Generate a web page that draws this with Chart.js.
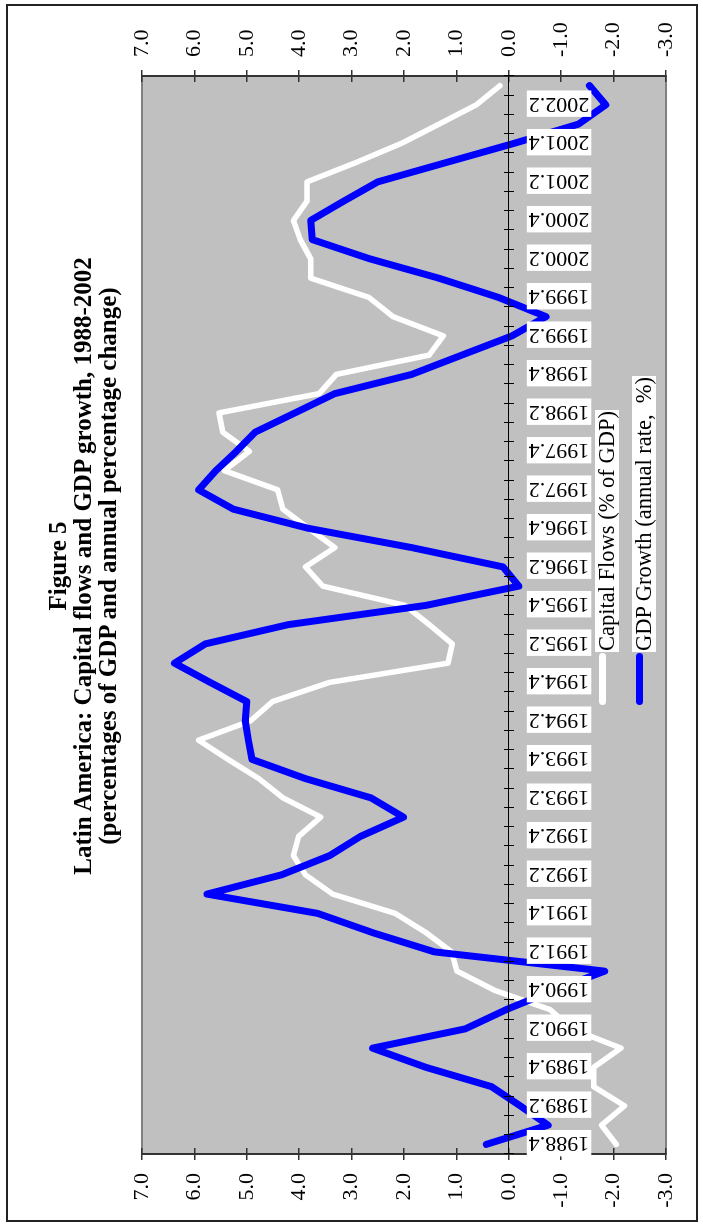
<!DOCTYPE html>
<html>
<head>
<meta charset="utf-8">
<script src="https://cdn.jsdelivr.net/npm/chart.js@4.4.1/dist/chart.umd.min.js"></script>
<style>
  html, body { margin: 0; padding: 0; background: #fff; overflow: hidden; }
  /* the figure is laid out landscape and turned a quarter turn to the left */
  #page {
    position: absolute; left: 0; top: 0;
    width: 1226px; height: 703px;
    transform-origin: 0 0;
    transform: translateY(1226px) rotate(-90deg);
    font-family: "Liberation Serif", "Times New Roman", serif;
    color: #000;
  }
  #frame { position: absolute; left: 4px; top: 6px; width: 1214px; height: 688px; border: 2px solid #222; }
  #chart { position: absolute; left: 0; top: 0; }
  #title {
    position: absolute; left: 260px; top: 45px; width: 800px;
    text-align: center; font-weight: bold; font-size: 25px; line-height: 25px;
  }
  .lg-line { position: absolute; left: 521px; width: 52px; height: 7px; border-radius: 3.5px; }
  .lg-text { position: absolute; left: 574px; height: 24px; line-height: 24px; font-size: 22.5px; background: #fff; white-space: pre; padding: 0 1px; }
</style>
</head>
<body>
<div id="page">
  <div id="frame"></div>
  <canvas id="chart" width="1226" height="703"></canvas>
  <div id="title">Figure 5<br>Latin America: Capital flows and GDP growth, 1988-2002<br>(percentages of GDP and annual percentage change)</div>
  <div class="lg-line" style="top:599px;background:#fff"></div>
  <div class="lg-text" style="top:595px">Capital Flows (% of GDP)</div>
  <div class="lg-line" style="top:636px;background:#0000ff"></div>
  <div class="lg-text" style="top:632px">GDP Growth (annual rate,  %)</div>
</div>
<script>
// quarters, 1988.4 - 2002.3
const quarters = [
  '1988.4',
  '1989.1', '1989.2', '1989.3', '1989.4',
  '1990.1', '1990.2', '1990.3', '1990.4',
  '1991.1', '1991.2', '1991.3', '1991.4',
  '1992.1', '1992.2', '1992.3', '1992.4',
  '1993.1', '1993.2', '1993.3', '1993.4',
  '1994.1', '1994.2', '1994.3', '1994.4',
  '1995.1', '1995.2', '1995.3', '1995.4',
  '1996.1', '1996.2', '1996.3', '1996.4',
  '1997.1', '1997.2', '1997.3', '1997.4',
  '1998.1', '1998.2', '1998.3', '1998.4',
  '1999.1', '1999.2', '1999.3', '1999.4',
  '2000.1', '2000.2', '2000.3', '2000.4',
  '2001.1', '2001.2', '2001.3', '2001.4',
  '2002.1', '2002.2', '2002.3'
];

// capital flows, % of GDP
const capitalFlows = [
  -2.05,
  -1.77, -2.21, -1.62, -1.62,
  -2.14, -1.20, -0.79, 0.27,
  0.99, 1.09, 1.58, 2.17,
  3.36, 3.88, 4.11, 4.01,
  3.59, 4.31, 4.77, 5.36,
  5.92, 4.93, 4.51, 3.42,
  1.16, 1.08, 1.52, 1.98,
  3.55, 3.88, 3.32, 3.82,
  4.31, 4.41, 5.43, 4.95,
  5.46, 5.53, 3.62, 3.29,
  1.52, 1.25, 2.21, 2.67,
  3.78, 3.78, 3.98, 4.11,
  3.85, 3.85, 2.92, 2.05,
  1.33, 0.62, 0.17
];

// GDP growth, annual rate %
const gdpGrowth = [
  0.43,
  -0.75, -0.22, 0.33, 1.58,
  2.60, 0.83, 0.05, -0.85,
  -1.83, 1.42, 2.60, 3.65,
  5.76, 4.34, 3.42, 2.83,
  2.01, 2.63, 3.88, 4.90,
  4.97, 5.03, 5.00, 5.70,
  6.38, 5.79, 4.21, 1.58,
  -0.19, 0.11, 1.85, 3.82,
  5.26, 5.92, 5.59, 5.20,
  4.84, 4.08, 3.32, 1.85,
  0.90, -0.06, -0.71, 0.20,
  1.34, 2.65, 3.75, 3.78,
  3.15, 2.50, 1.20, -0.10,
  -1.33, -1.85, -1.54
];

const valueMin = -3;
const valueMax = 7;

const FONT = { family: 'Liberation Serif', size: 22 };

// gray plot area with a thin gray frame
const plotBackground = {
  id: 'plotBackground',
  beforeDraw(chart) {
    const { ctx, chartArea: a } = chart;
    ctx.save();
    ctx.fillStyle = '#c0c0c0';
    ctx.fillRect(a.left, a.top, a.width, a.height);
    ctx.strokeStyle = '#808080';
    ctx.lineWidth = 2;
    ctx.strokeRect(a.left, a.top, a.width, a.height);
    ctx.restore();
  }
};

function valueAxis(side, width) {
  return {
    type: 'linear',
    position: side,
    weight: 1,
    min: valueMin,
    max: valueMax,
    afterFit: (s) => { s.width = width; },
    grid: { drawOnChartArea: false, tickLength: 6, color: '#333', lineWidth: 1.5 },
    border: { color: '#333', width: 2 },
    ticks: {
      stepSize: 1,
      padding: 13,
      color: '#000',
      font: FONT,
      callback: (v) => v.toFixed(1)
    }
  };
}

// inner half of the crossing tick marks
function innerTicks(side) {
  return {
    type: 'linear',
    position: side,
    weight: 0,
    min: valueMin,
    max: valueMax,
    afterFit: (s) => { s.width = 0; },
    grid: { drawOnChartArea: false, tickLength: -6, color: '#333', lineWidth: 1.5 },
    border: { display: false },
    ticks: { stepSize: 1, display: false }
  };
}

new Chart(document.getElementById('chart'), {
  type: 'line',
  data: {
    labels: quarters,
    datasets: [
      {
        label: 'Capital Flows (% of GDP)',
        data: capitalFlows,
        borderColor: '#ffffff',
        borderWidth: 5.5,
        borderCapStyle: 'round',
        borderJoinStyle: 'round',
        pointRadius: 0,
        tension: 0,
        fill: false,
        order: 1
      },
      {
        label: 'GDP Growth (annual rate,  %)',
        data: gdpGrowth,
        borderColor: '#0000ff',
        borderWidth: 7,
        borderCapStyle: 'round',
        borderJoinStyle: 'round',
        pointRadius: 0,
        tension: 0,
        fill: false,
        order: 0
      }
    ]
  },
  options: {
    responsive: false,
    animation: false,
    devicePixelRatio: 1,
    layout: { padding: { top: 142, bottom: 37, left: 0, right: 0 } },
    scales: {
      x: {
        type: 'category',
        position: { y: 0 },
        offset: true,
        grid: { drawOnChartArea: false, offset: true, tickLength: 5, color: '#000', lineWidth: 1, z: 1 },
        border: { color: '#000', width: 1, z: 1 },
        ticks: {
          z: 1,
          autoSkip: false,
          minRotation: 90,
          maxRotation: 90,
          padding: 15,
          labelOffset: -12,
          color: '#000',
          font: FONT,
          callback: (v, i) => (i % 2 === 0 ? quarters[i] : ''),
          showLabelBackdrop: (c) => c.index % 2 === 0,
          backdropColor: '#ffffff',
          backdropPadding: { left: 2, right: 2, top: 0, bottom: 0 }
        }
      },
      xTicks: {
        type: 'category',
        position: { y: 0 },
        offset: true,
        grid: { drawOnChartArea: false, offset: true, tickLength: -5, color: '#000', lineWidth: 1, z: 1 },
        border: { display: false },
        ticks: { display: false, autoSkip: false }
      },
      y: valueAxis('left', 72),
      yIn: innerTicks('left'),
      y2: valueAxis('right', 76),
      y2In: innerTicks('right')
    },
    plugins: {
      legend: { display: false },
      title: { display: false },
      tooltip: { enabled: false }
    }
  },
  plugins: [plotBackground]
});
</script>
</body>
</html>
